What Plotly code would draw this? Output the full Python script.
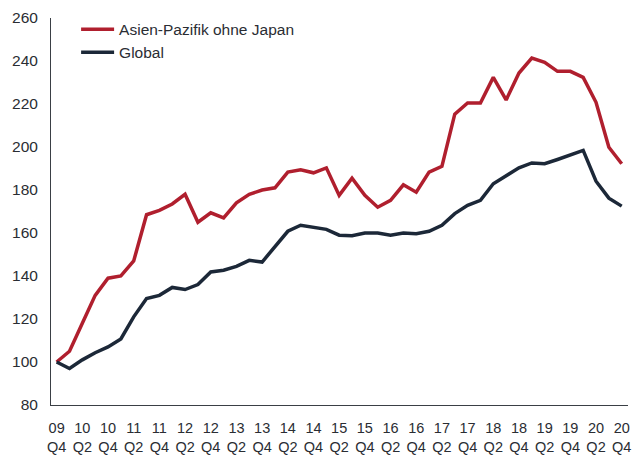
import plotly.graph_objects as go

quarters = ["09 Q4", "10 Q1", "10 Q2", "10 Q3", "10 Q4", "11 Q1", "11 Q2", "11 Q3", "11 Q4",
            "12 Q1", "12 Q2", "12 Q3", "12 Q4", "13 Q1", "13 Q2", "13 Q3", "13 Q4",
            "14 Q1", "14 Q2", "14 Q3", "14 Q4", "15 Q1", "15 Q2", "15 Q3", "15 Q4",
            "16 Q1", "16 Q2", "16 Q3", "16 Q4", "17 Q1", "17 Q2", "17 Q3", "17 Q4",
            "18 Q1", "18 Q2", "18 Q3", "18 Q4", "19 Q1", "19 Q2", "19 Q3", "19 Q4",
            "20 Q1", "20 Q2", "20 Q3", "20 Q4"]

asia_pac = [100, 105, 118, 131, 139, 140, 147, 168.5, 170.5, 173.5, 178, 165, 169.4, 167,
            174, 178, 180, 181, 188.3, 189.4, 188, 190.3, 177.5, 185.5, 177.5, 172, 175.2,
            182.4, 179, 188.3, 191, 215.3, 220.5, 220.5, 232.4, 221.9, 234.4, 241.4, 239.4,
            235.2, 235.2, 232.4, 220.8, 199.9, 192.2]

global_idx = [100, 97, 101, 104.3, 107, 110.7, 121, 129.5, 131, 134.7, 133.7, 136, 141.9,
              142.7, 144.5, 147.3, 146.5, 153.5, 160.8, 163.6, 162.5, 161.7, 159, 158.7, 160,
              160, 159, 160, 159.7, 160.8, 163.6, 169, 172.9, 175.2, 182.9, 186.8, 190.3,
              192.6, 192.2, 194.2, 196.5, 198.4, 184.1, 176.2, 172.5]

tick_labels = [q.replace(" ", "<br>") for i, q in enumerate(quarters) if i % 2 == 0]
tick_pos = [i for i in range(len(quarters)) if i % 2 == 0]
y_ticks = [80, 100, 120, 140, 160, 180, 200, 220, 240, 260]

x = list(range(len(quarters)))

fig = go.Figure()
fig.add_trace(go.Scatter(x=x, y=asia_pac, mode="lines", name="Asien-Pazifik ohne Japan",
                         line=dict(color="#B01F2E", width=3.5)))
fig.add_trace(go.Scatter(x=x, y=global_idx, mode="lines", name="Global",
                         line=dict(color="#1C2838", width=3.5)))

fig.update_layout(
    width=642, height=455,
    margin=dict(l=51, r=14, t=18, b=50),
    paper_bgcolor="white", plot_bgcolor="white",
    font=dict(family="Liberation Sans, Arial, sans-serif", size=14, color="#2a2d33"),
    showlegend=True,
    legend=dict(x=0.0435, y=1.014, xanchor="left", yanchor="top", itemwidth=33,
                bgcolor="rgba(0,0,0,0)", font=dict(size=15.5, color="#2a2d33"),
                tracegroupgap=0),
    xaxis=dict(range=[-0.44, 44.49], tickmode="array", tickvals=tick_pos, ticktext=tick_labels,
               showgrid=False, zeroline=False, showline=True, linecolor="#3a3f45", linewidth=1,
               ticks="", tickfont=dict(size=14.5), ticklabelstandoff=10, automargin=False),
    yaxis=dict(range=[80, 260], tickmode="array", tickvals=y_ticks,
               showgrid=False, zeroline=False, showline=True, linecolor="#3a3f45", linewidth=1,
               ticks="", ticklabelstandoff=9, tickfont=dict(size=15.5), automargin=False),
)

fig.write_html("out.html", config={"displayModeBar": False},
               post_script="document.body.style.margin='0';")
